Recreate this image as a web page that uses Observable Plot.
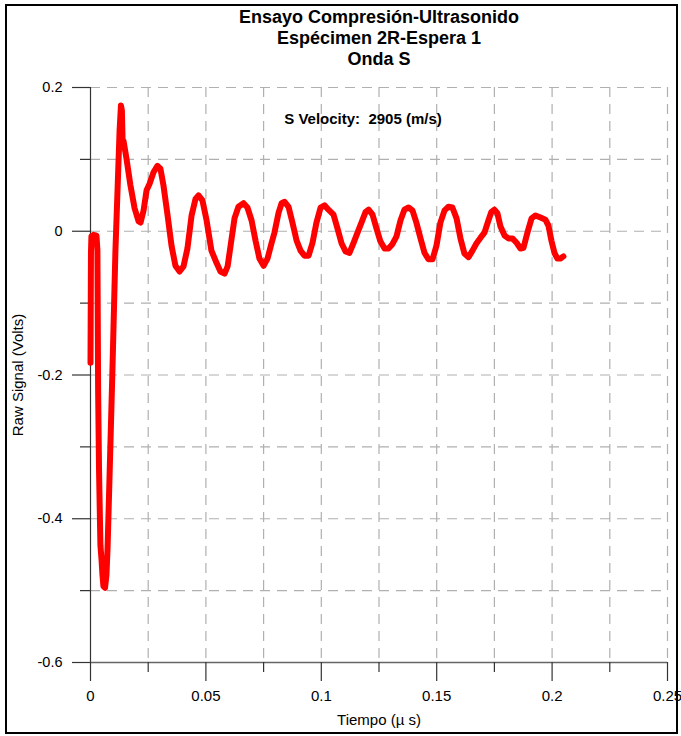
<!DOCTYPE html>
<html><head><meta charset="utf-8">
<script src="https://cdn.jsdelivr.net/npm/d3@7"></script>
<script src="https://cdn.jsdelivr.net/npm/@observablehq/plot@0.6"></script>
<style>
body{margin:0;background:#fff;}
#wrap{position:relative;width:681px;height:736px;font-family:"Liberation Sans",Arial,sans-serif;}
#border{position:absolute;left:5px;top:4px;width:669px;height:726px;border:2px solid #000;pointer-events:none;}
</style></head><body><div id="wrap"><div id="border"></div></div>
<script>
const titleLines = ["Ensayo Compresión-Ultrasonido", "Espécimen 2R-Espera 1", "Onda S"];
const annotation = "S Velocity:  2905 (m/s)";
const xLabel = "Tiempo (µ s)";
const yLabel = "Raw Signal (Volts)";
const xTicks = [0, 0.05, 0.1, 0.15, 0.2, 0.25];
const xMinorTicks = [0.025, 0.075, 0.125, 0.175, 0.225];
const xGrid = [0.025, 0.05, 0.075, 0.1, 0.125, 0.15, 0.175, 0.2, 0.225, 0.25];
const yTicks = [0.2, 0, -0.2, -0.4, -0.6];
const yMinorTicks = [0.1, -0.1, -0.3, -0.5];
const yGrid = [0.2, 0.1, 0, -0.1, -0.2, -0.3, -0.4, -0.5];

const time = [0.0, 0.0002, 0.0004, 0.0013, 0.0026, 0.003, 0.0033, 0.0037, 0.0041, 0.0043, 0.0048, 0.0052, 0.0056, 0.0063, 0.0069, 0.0074, 0.0082, 0.0095, 0.0108, 0.0117, 0.0126, 0.0132, 0.0136, 0.0139, 0.0143, 0.0156, 0.0173, 0.0191, 0.0208, 0.0217, 0.023, 0.0243, 0.0256, 0.0273, 0.029, 0.0303, 0.0316, 0.0334, 0.0351, 0.0368, 0.0386, 0.0403, 0.042, 0.0438, 0.0455, 0.0468, 0.0485, 0.0503, 0.0524, 0.0542, 0.0563, 0.0581, 0.0594, 0.0607, 0.0624, 0.0641, 0.0663, 0.068, 0.0698, 0.0715, 0.0732, 0.075, 0.0767, 0.0784, 0.0797, 0.0815, 0.0828, 0.0841, 0.0858, 0.0875, 0.0893, 0.091, 0.0927, 0.0945, 0.0962, 0.0979, 0.0997, 0.1014, 0.1031, 0.1053, 0.107, 0.1088, 0.1105, 0.1122, 0.114, 0.1157, 0.1174, 0.1192, 0.1205, 0.1222, 0.1239, 0.1256, 0.1274, 0.1291, 0.1308, 0.1326, 0.1343, 0.136, 0.1378, 0.1395, 0.1412, 0.143, 0.1447, 0.1464, 0.1482, 0.1499, 0.1516, 0.1534, 0.1551, 0.1568, 0.1586, 0.1603, 0.162, 0.1638, 0.1655, 0.1672, 0.169, 0.1707, 0.1724, 0.1737, 0.175, 0.1763, 0.1776, 0.1794, 0.1811, 0.1828, 0.1846, 0.1863, 0.1876, 0.1893, 0.1911, 0.1928, 0.195, 0.1971, 0.1984, 0.1997, 0.201, 0.2023, 0.2036, 0.2049];
const signal = [-0.183, -0.03, -0.007, -0.005, -0.006, -0.027, -0.22, -0.333, -0.403, -0.437, -0.458, -0.479, -0.494, -0.496, -0.479, -0.441, -0.347, -0.194, -0.027, 0.056, 0.14, 0.175, 0.168, 0.126, 0.126, 0.101, 0.064, 0.032, 0.014, 0.012, 0.029, 0.057, 0.066, 0.082, 0.091, 0.087, 0.064, 0.022, -0.02, -0.048, -0.056, -0.049, -0.024, 0.022, 0.045, 0.05, 0.043, 0.015, -0.027, -0.041, -0.056, -0.059, -0.049, -0.02, 0.018, 0.034, 0.039, 0.033, 0.015, -0.013, -0.038, -0.048, -0.038, -0.017, -0.002, 0.026, 0.039, 0.041, 0.034, 0.012, -0.013, -0.027, -0.034, -0.034, -0.016, 0.012, 0.033, 0.036, 0.03, 0.023, 0.004, -0.017, -0.028, -0.03, -0.016, -0.002, 0.012, 0.027, 0.03, 0.023, 0.004, -0.014, -0.024, -0.024, -0.018, -0.007, 0.015, 0.03, 0.033, 0.029, 0.012, -0.01, -0.03, -0.039, -0.039, -0.02, 0.012, 0.029, 0.034, 0.033, 0.018, -0.01, -0.031, -0.036, -0.027, -0.017, -0.009, -0.002, 0.015, 0.027, 0.03, 0.025, 0.007, -0.006, -0.01, -0.01, -0.016, -0.024, -0.023, -0.002, 0.018, 0.022, 0.019, 0.016, 0.008, -0.013, -0.03, -0.038, -0.038, -0.035];

const wave = time.map((t, i) => ({t, v: signal[i]}));
const font = "'Liberation Sans', Arial, sans-serif";
const gridStyle = {stroke: "#b0b0b0", strokeOpacity: 1, strokeWidth: 1.2, strokeDasharray: "10,7"};
const fmt = d => String(d);

const chart = Plot.plot({
  width: 681,
  height: 736,
  marginLeft: 90,
  marginRight: 14,
  marginTop: 87,
  marginBottom: 74,
  style: {fontFamily: font, background: "transparent", color: "#000"},
  x: {domain: [0, 0.25]},
  y: {domain: [-0.6, 0.2]},
  marks: [
    Plot.gridY(yGrid, gridStyle),
    Plot.gridX(xGrid, gridStyle),
    Plot.ruleX([0], {stroke: "#333", strokeWidth: 1.2}),
    Plot.ruleY([-0.6], {stroke: "#666", strokeWidth: 1.5}),
    Plot.axisY(yTicks, {tickSize: 18, tickPadding: 10, tickFormat: fmt, fontSize: 14.5, label: null, stroke: "#333", strokeWidth: 1.2}),
    Plot.axisY(yMinorTicks, {tickSize: 10, tickFormat: () => "", label: null, stroke: "#333", strokeWidth: 1.2}),
    Plot.axisX(xTicks, {tickSize: 19, tickPadding: 9, tickFormat: fmt, fontSize: 15, label: null, stroke: "#333", strokeWidth: 1.2}),
    Plot.axisX(xMinorTicks, {tickSize: 10, tickFormat: () => "", label: null, stroke: "#333", strokeWidth: 1.2}),
    Plot.line(wave, {x: "t", y: "v", stroke: "#ff0000", strokeWidth: 6, strokeLinejoin: "round", strokeLinecap: "round"}),
    Plot.text([titleLines.join("\n")], {frameAnchor: "top", lineAnchor: "top", dy: -80, fontSize: 18, fontWeight: "bold", lineHeight: 1.18, fill: "#000"}),
    Plot.text([annotation], {frameAnchor: "top", lineAnchor: "middle", dx: -16, dy: 32, fontSize: 15, fontWeight: "bold", fill: "#000"}),
    Plot.text([yLabel], {frameAnchor: "left", lineAnchor: "middle", dx: -72, rotate: -90, textAnchor: "middle", fontSize: 15, fill: "#000"}),
    Plot.text([xLabel], {frameAnchor: "bottom", lineAnchor: "middle", dy: 58, textAnchor: "middle", fontSize: 15, fill: "#000"})
  ]
});
document.getElementById("wrap").prepend(chart);
</script>
</body></html>
